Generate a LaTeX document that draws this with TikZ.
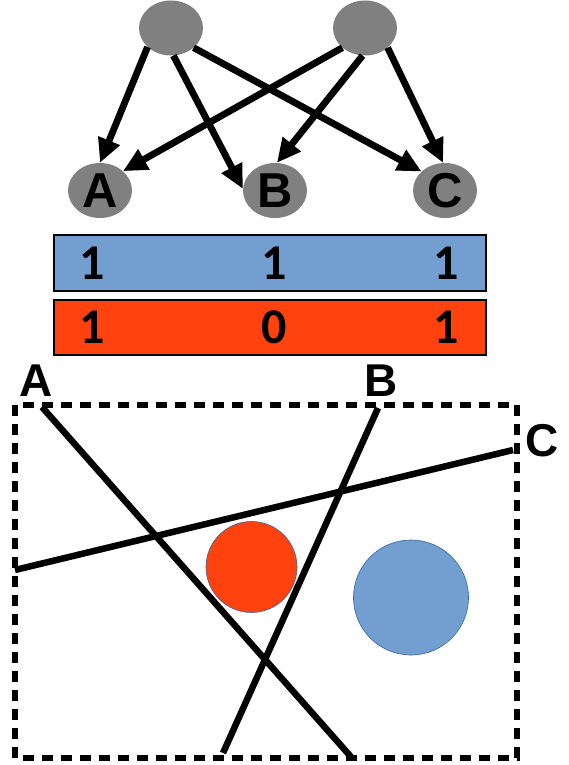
\documentclass[tikz,border=0pt]{standalone}
\usepackage{fontspec}
\setmainfont{Liberation Sans}
\newfontfamily\digitfont{Carlito}
\usetikzlibrary{arrows.meta,shapes.geometric}
\definecolor{nodegray}{HTML}{808080}
\definecolor{lblue}{HTML}{729FCF}
\definecolor{lred}{HTML}{FF420E}
\definecolor{outl}{HTML}{3465A4}
\begin{document}
\begin{tikzpicture}[x=1pt,y=-1pt,
  gnode/.style={ellipse, fill=nodegray, minimum width=64pt, minimum height=55pt, inner sep=0pt, font=\fontsize{49}{50}\selectfont\bfseries},
  arr/.style={line width=6.8pt, -{Triangle[length=24pt,width=22pt]}},
  bar/.style={draw=black, line width=2pt, minimum width=432pt, inner sep=0pt},
  digit/.style={font=\digitfont\fontsize{50}{52}\selectfont\bfseries, inner sep=0pt},
  lbl/.style={font=\fontsize{46}{48}\selectfont\bfseries, inner sep=0pt},
  cut/.style={line width=6.5pt},
  disc/.style={draw=outl, line width=0.6pt},
]
\useasboundingbox (0,0) rectangle (569,765);

% graph
\node[gnode] (t1) at (171,28) {};
\node[gnode] (t2) at (365,28) {};
\node[gnode] (A) at (100,190.5) {A};
\node[gnode] (B) at (275,190.5) {B};
\node[gnode] (C) at (445,190.5) {C};

\draw[arr] (t1.219.6) -- (A.90);
\draw[arr] (t1.275) -- (B.177);
\draw[arr] (t1.319) -- (C.141);
\draw[arr] (t2.221) -- (A.40);
\draw[arr] (t2.265) -- (B.86);
\draw[arr] (t2.319) -- (C.94);

% bars
\node[bar, fill=lblue, minimum height=56pt] (bluebar) at (270,263) {};
\node[bar, fill=lred, minimum height=55pt] (redbar) at (270,327.5) {};
\node[digit] (b1) at (92,263) {1};
\node[digit] (b2) at (274,263) {1};
\node[digit] (b3) at (446,263) {1};
\node[digit] (r1) at (92,327.5) {1};
\node[digit] (r2) at (274,327.5) {0};
\node[digit] (r3) at (446,327.5) {1};

% lower scene
\draw[line width=5.5pt, dash pattern=on 11pt off 8pt] (15,405) rectangle (517,758);
\draw[disc, fill=lred] (251.5,567) circle[radius=45.5];
\draw[disc, fill=lblue] (411,597.5) circle[radius=57.5];
\draw[cut] (42,407) -- (352,758);
\draw[cut] (378,408) -- (223,753);
\draw[cut] (15,570) -- (513,450);
\node[lbl] (la) at (36,381) {A};
\node[lbl] (lb) at (381,381) {B};
\node[lbl] (lc) at (542,441) {C};
\end{tikzpicture}
\end{document}
